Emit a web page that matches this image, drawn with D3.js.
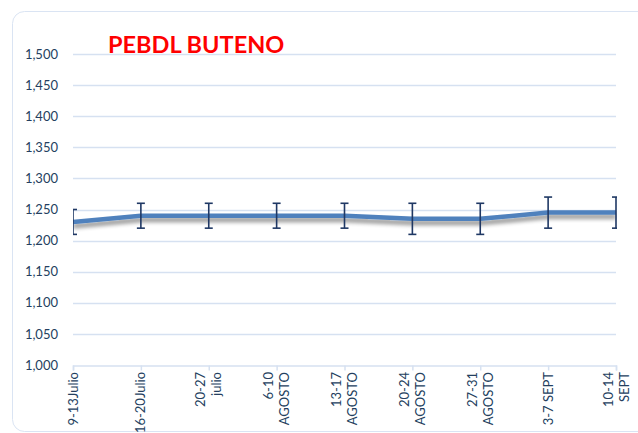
<!DOCTYPE html>
<html>
<head>
<meta charset="utf-8">
<script src="https://cdn.jsdelivr.net/npm/d3@7"></script>
<style>
  body { margin: 0; background: #fff; }
  svg text { font-family: Lato, "Open Sans", sans-serif; }
</style>
</head>
<body>
<div id="chart"></div>
<script>
// data
const weeks = [
  ["9-13Julio"],
  ["16-20Julio"],
  ["20-27", "julio"],
  ["6-10", "AGOSTO"],
  ["13-17", "AGOSTO"],
  ["20-24", "AGOSTO"],
  ["27-31", "AGOSTO"],
  ["3-7 SEPT"],
  ["10-14", "SEPT"]
];
const prices = [1230, 1240, 1240, 1240, 1240, 1235, 1235, 1245, 1245];
const upper = [1250, 1260, 1260, 1260, 1260, 1260, 1260, 1270, 1270];
const lower = [1210, 1220, 1220, 1220, 1220, 1210, 1210, 1220, 1220];
const yTicks = [1000, 1050, 1100, 1150, 1200, 1250, 1300, 1350, 1400, 1450, 1500];

const width = 638, height = 433;
const margin = { left: 73, right: 22, top: 54, bottom: 68 };

const svg = d3.select("#chart").append("svg")
    .attr("width", width)
    .attr("height", height);

const defs = svg.append("defs");
const shadow = defs.append("filter").attr("id", "shadow")
    .attr("x", "-5%").attr("y", "-50%").attr("width", "110%").attr("height", "300%");
shadow.append("feGaussianBlur").attr("in", "SourceAlpha").attr("stdDeviation", 2.2).attr("result", "b");
shadow.append("feOffset").attr("in", "b").attr("dx", 0).attr("dy", 3.5).attr("result", "o");
shadow.append("feComponentTransfer").attr("in", "o").attr("result", "s")
    .append("feFuncA").attr("type", "linear").attr("slope", 0.45);
const merge = shadow.append("feMerge");
merge.append("feMergeNode").attr("in", "s");
merge.append("feMergeNode").attr("in", "SourceGraphic");

defs.append("clipPath").attr("id", "plotclip")
  .append("rect")
    .attr("x", margin.left).attr("y", 0)
    .attr("width", width - margin.left - margin.right + 1)
    .attr("height", height);

// outer frame
svg.append("rect")
    .attr("x", 12.5).attr("y", 11.5)
    .attr("width", 640).attr("height", 420)
    .attr("rx", 12)
    .attr("fill", "none")
    .attr("stroke", "#dae4f3")
    .attr("stroke-width", 1);

const x = d3.scalePoint()
    .domain(d3.range(weeks.length))
    .range([margin.left, width - margin.right]);

const y = d3.scaleLinear()
    .domain([1000, 1500])
    .range([height - margin.bottom, margin.top]);

// gridlines
svg.append("g")
    .selectAll("line")
    .data(yTicks.slice(1))
    .enter().append("line")
    .attr("x1", margin.left).attr("x2", width - margin.right)
    .attr("y1", d => Math.round(y(d)) + 0.5).attr("y2", d => Math.round(y(d)) + 0.5)
    .attr("stroke", "#d6e1f1")
    .attr("stroke-width", 1.5);

// y axis labels
const yAxis = svg.append("g")
    .attr("transform", `translate(${margin.left},0)`)
    .call(d3.axisLeft(y).tickValues(yTicks).tickFormat(d3.format(",")).tickSize(0).tickPadding(15));
yAxis.select(".domain").remove();
yAxis.selectAll("text")
    .attr("fill", "#243f60")
    .style("font-size", "13px");

// x axis
const xAxis = svg.append("g")
    .attr("transform", `translate(0,${Math.round(y(1000)) + 0.5})`)
    .call(d3.axisBottom(x).tickSize(5).tickFormat(""));
xAxis.select(".domain").attr("stroke", "#d6e1f1").attr("stroke-width", 1.5);
xAxis.selectAll(".tick line").attr("stroke", "#d6e1f1").attr("stroke-width", 1.5);

// rotated multi-line category labels
const labels = svg.append("g")
    .selectAll("text")
    .data(weeks)
    .enter().append("text")
    .attr("transform", (d, i) => `translate(${x(i)},${y(1000) + 7}) rotate(-90)`)
    .attr("text-anchor", "end")
    .attr("fill", "#243f60")
    .style("font-size", "13px");
labels.each(function(d) {
  const t = d3.select(this);
  const n = d.length;
  d.forEach((line, k) => {
    t.append("tspan")
      .attr("x", 0)
      .attr("y", (k - (n - 1) / 2) * 16 + 4.5)
      .text(line);
  });
});

const plot = svg.append("g").attr("clip-path", "url(#plotclip)");

// line with shadow
const line = d3.line()
    .x((d, i) => x(i))
    .y(d => y(d));

plot.append("path")
    .datum(prices)
    .attr("fill", "none")
    .attr("stroke", "#4f81bd")
    .attr("stroke-width", 4.5)
    .attr("stroke-linejoin", "round")
    .attr("filter", "url(#shadow)")
    .attr("d", line);

// error bars
const bars = plot.append("g")
    .selectAll("g")
    .data(prices.map((p, i) => ({ i, hi: upper[i], lo: lower[i] })))
    .enter().append("g")
    .attr("stroke", "#1f3864")
    .attr("stroke-width", 1.6);

bars.append("line")
    .attr("x1", d => x(d.i)).attr("x2", d => x(d.i))
    .attr("y1", d => y(d.hi)).attr("y2", d => y(d.lo));
bars.append("line")
    .attr("x1", d => x(d.i) - 4).attr("x2", d => x(d.i) + 4)
    .attr("y1", d => y(d.hi)).attr("y2", d => y(d.hi));
bars.append("line")
    .attr("x1", d => x(d.i) - 4).attr("x2", d => x(d.i) + 4)
    .attr("y1", d => y(d.lo)).attr("y2", d => y(d.lo));

// title
svg.append("text")
    .attr("x", 108)
    .attr("y", 53)
    .attr("fill", "#ff0000")
    .style("font-size", "23.5px")
    .style("font-weight", "bold")
    .text("PEBDL BUTENO");
</script>
</body>
</html>
